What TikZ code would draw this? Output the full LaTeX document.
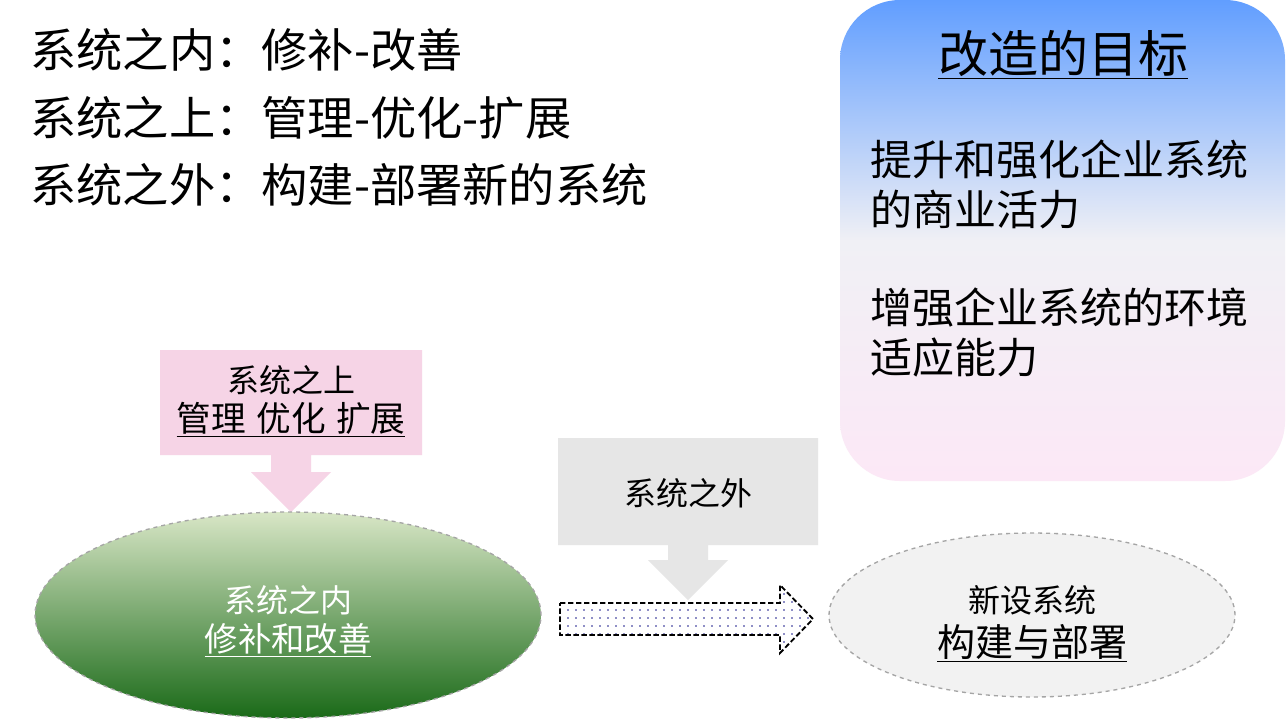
\documentclass[tikz,border=0pt]{standalone}
\usepackage{fontspec}
\setmainfont{Noto Sans CJK SC}
\usetikzlibrary{shapes.geometric,patterns.meta}
\definecolor{pinkc}{RGB}{246,212,230}
\definecolor{grayc}{RGB}{230,230,230}
\definecolor{bluetop}{RGB}{97,158,255}
\definecolor{boxmid}{RGB}{240,240,245}
\definecolor{boxbot}{RGB}{252,232,246}
\definecolor{greentop}{RGB}{216,230,198}
\definecolor{greenmid}{RGB}{150,186,100}
\definecolor{greenbot}{RGB}{26,106,24}
\definecolor{ellgray}{RGB}{242,242,242}
\definecolor{bordergray}{RGB}{165,165,165}
\definecolor{dotblue}{RGB}{30,30,140}
\tikzset{
  toptext/.style={anchor=west, inner sep=0pt, font=\fontsize{34.7pt}{40pt}\selectfont},
  goaltext/.style={anchor=west, inner sep=0pt, font=\fontsize{31.5pt}{36pt}\selectfont},
  calltext/.style={inner sep=0pt, font=\fontsize{24pt}{28pt}\selectfont},
  sysell/.style={ellipse, draw=bordergray, dashed, line width=1pt},
}
\begin{document}
\begin{tikzpicture}[x=0.75pt,y=-0.75pt]
\useasboundingbox (0,0) rectangle (1288,722);
\fill[white] (0,0) rectangle (1288,722);

% top-left list
\node[toptext] (l1) at (30,50) {系统之内：修补-改善};
\node[toptext] (l2) at (30,118) {系统之上：管理-优化-扩展};
\node[toptext] (l3) at (30,185) {系统之外：构建-部署新的系统};

% goal box
\node[rounded corners=45pt, minimum width=333.75pt, minimum height=360.75pt,
      top color=bluetop, bottom color=boxbot, middle color=boxmid, inner sep=0pt]
      (goal) at (1062.5,240.5) {};
\node[inner sep=0pt, font=\fontsize{37.5pt}{42pt}\selectfont] (gtitle) at (1063,55) {\underline{改造的目标}};
\node[goaltext] (g1) at (870,160) {提升和强化企业系统};
\node[goaltext] (g2) at (870,210) {的商业活力};
\node[goaltext] (g3) at (870,308) {增强企业系统的环境};
\node[goaltext] (g4) at (870,358) {适应能力};

% pink callout
\fill[pinkc] (160,350) -- (422,350) -- (422,455) -- (311,455) -- (311,472) -- (331,472)
  -- (291,512) -- (251,472) -- (271,472) -- (271,455) -- (160,455) -- cycle;
\node[calltext] (p1) at (291,380) {系统之上};
\node[inner sep=0pt, font=\fontsize{26pt}{30pt}\selectfont] (p2) at (291,420) {\underline{管理\hspace{0.3em}优化\hspace{0.3em}扩展}};

% gray callout
\fill[grayc] (558,438) -- (818,438) -- (818,545) -- (708,545) -- (708,560) -- (728,560)
  -- (688,600) -- (648,560) -- (668,560) -- (668,545) -- (558,545) -- cycle;
\node[calltext] (q1) at (688,493) {系统之外};

% ellipses
\node[sysell, minimum width=379.5pt, minimum height=154.5pt,
      top color=greentop, middle color=greenmid, bottom color=greenbot] (inner) at (288,615) {};
\node[calltext, text=white] (i1) at (288,600) {系统之内};
\node[inner sep=0pt, text=white, font=\fontsize{25pt}{29pt}\selectfont] (i2) at (288,640) {\underline{修补和改善}};

\node[sysell, fill=ellgray, minimum width=304.5pt, minimum height=123pt] (newsys) at (1032,615) {};
\node[calltext] (n1) at (1032,600) {新设系统};
\node[inner sep=0pt, font=\fontsize{28.5pt}{32pt}\selectfont] (n2) at (1032,643) {\underline{构建与部署}};

% dotted block arrow
\fill[pattern={Dots[distance=6pt, radius=0.7pt]}, pattern color=dotblue]
  (560,603) -- (780,603) -- (780,585) -- (813,619) -- (780,653) -- (780,635) -- (560,635) -- cycle;
\draw[dash pattern=on 4pt off 2pt, line width=1.4pt, black]
  (560,603) -- (780,603) -- (780,585) -- (813,619) -- (780,653) -- (780,635) -- (560,635) -- cycle;
\end{tikzpicture}
\end{document}
